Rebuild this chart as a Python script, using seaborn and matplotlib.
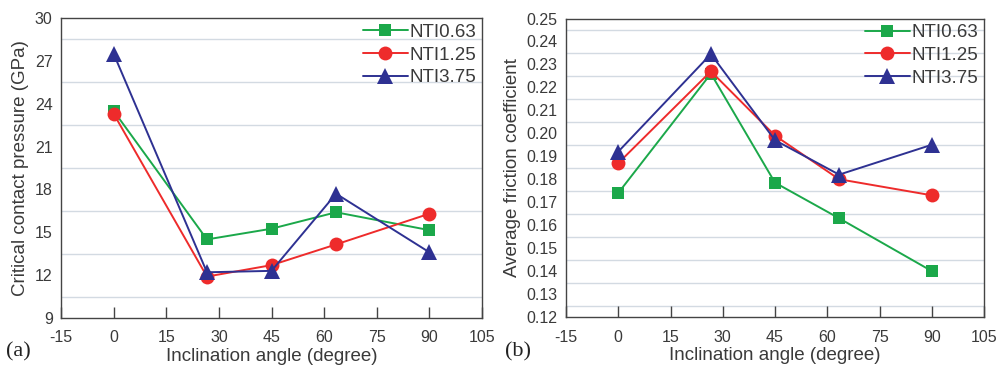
import numpy as np
import pandas as pd
import matplotlib
matplotlib.use("Agg")
import matplotlib.pyplot as plt
import seaborn as sns
from matplotlib.ticker import MultipleLocator

angles = [0, 26.6, 45, 63.4, 90]
series_names = ["NTI0.63", "NTI1.25", "NTI3.75"]

pressure_063 = [23.5, 14.5, 15.25, 16.4, 15.15]
pressure_125 = [23.3, 11.9, 12.7, 14.15, 16.3]
pressure_375 = [27.5, 12.2, 12.3, 17.7, 13.6]

friction_063 = [0.174, 0.226, 0.1785, 0.163, 0.140]
friction_125 = [0.187, 0.227, 0.199, 0.180, 0.173]
friction_375 = [0.192, 0.2345, 0.197, 0.182, 0.195]

xticks = [-15, 0, 15, 30, 45, 60, 75, 90, 105]
xlabel = "Inclination angle (degree)"
ylabel_a = "Critical contact pressure (GPa)"
ylabel_b = "Average friction coefficient"
panel_labels = ["(a)", "(b)"]

colors = {"NTI0.63": "#1BA84A", "NTI1.25": "#EE2B2B", "NTI3.75": "#2E3192"}
markers = {"NTI0.63": "s", "NTI1.25": "o", "NTI3.75": "^"}
msizes = {"NTI0.63": 9, "NTI1.25": 10, "NTI3.75": 12}


def make_df(vals):
    rows = []
    for name, v in zip(series_names, vals):
        for a, y in zip(angles, v):
            rows.append({"angle": a, "value": y, "series": name})
    return pd.DataFrame(rows)


df_a = make_df([pressure_063, pressure_125, pressure_375])
df_b = make_df([friction_063, friction_125, friction_375])

sns.set_theme(style="white")
plt.rcParams["font.family"] = ["Liberation Sans", "DejaVu Sans"]
plt.rcParams["axes.unicode_minus"] = False
txt = "#3a3a3a"

fig = plt.figure(figsize=(9.96, 3.66), dpi=100)
ax_a = fig.add_axes([61 / 996, 48 / 366, 421 / 996, 300 / 366])
ax_b = fig.add_axes([566 / 996, 49 / 366, 418 / 996, 298.5 / 366])


def draw(ax, df, ylim, ymaj, ylabel, fmt):
    for name in series_names:
        sub = df[df["series"] == name]
        sns.lineplot(data=sub, x="angle", y="value", ax=ax, color=colors[name],
                     marker=markers[name], markersize=msizes[name],
                     markeredgewidth=0, linewidth=1.4, label=name)
    ax.set_xlim(-15, 105)
    ax.set_ylim(*ylim)
    ax.set_xticks(xticks)
    ax.yaxis.set_major_locator(MultipleLocator(ymaj))
    ax.yaxis.set_major_formatter(matplotlib.ticker.FormatStrFormatter(fmt))
    ax.grid(False)
    # gridlines at the half-step positions only
    lo, hi = ylim
    for yv in np.arange(lo + ymaj / 2, hi, ymaj):
        ax.axhline(yv, color="#d3dae2", linewidth=1.0, zorder=0)
    ax.tick_params(axis="x", direction="in", length=8, width=1, color="#444444",
                   bottom=True, labelsize=11.5, labelcolor=txt, pad=9)
    ax.tick_params(axis="y", which="both", length=0, labelsize=11.5, labelcolor=txt, pad=6)
    for s in ax.spines.values():
        s.set_color("#444444")
        s.set_linewidth(1.0)
    ax.set_xlabel(xlabel, fontsize=13.5, color=txt, labelpad=2)
    ax.set_ylabel(ylabel, fontsize=13.5, color=txt, labelpad=4)
    leg = ax.legend(loc="upper right", frameon=False, fontsize=13.5,
                    handlelength=2.4, handletextpad=0.1, borderaxespad=0.1,
                    labelspacing=0.3, borderpad=0.2)
    for t in leg.get_texts():
        t.set_color(txt)


draw(ax_a, df_a, (9, 30), 3, ylabel_a, "%d")
draw(ax_b, df_b, (0.12, 0.25), 0.01, ylabel_b, "%.2f")

fig.text(6 / 996, 1 - 356 / 366, panel_labels[0], fontsize=16,
         family=["Liberation Serif", "DejaVu Serif"], color="#222222", va="baseline")
fig.text(505 / 996, 1 - 356 / 366, panel_labels[1], fontsize=16,
         family=["Liberation Serif", "DejaVu Serif"], color="#222222", va="baseline")

fig.savefig("out.png", dpi=100)
